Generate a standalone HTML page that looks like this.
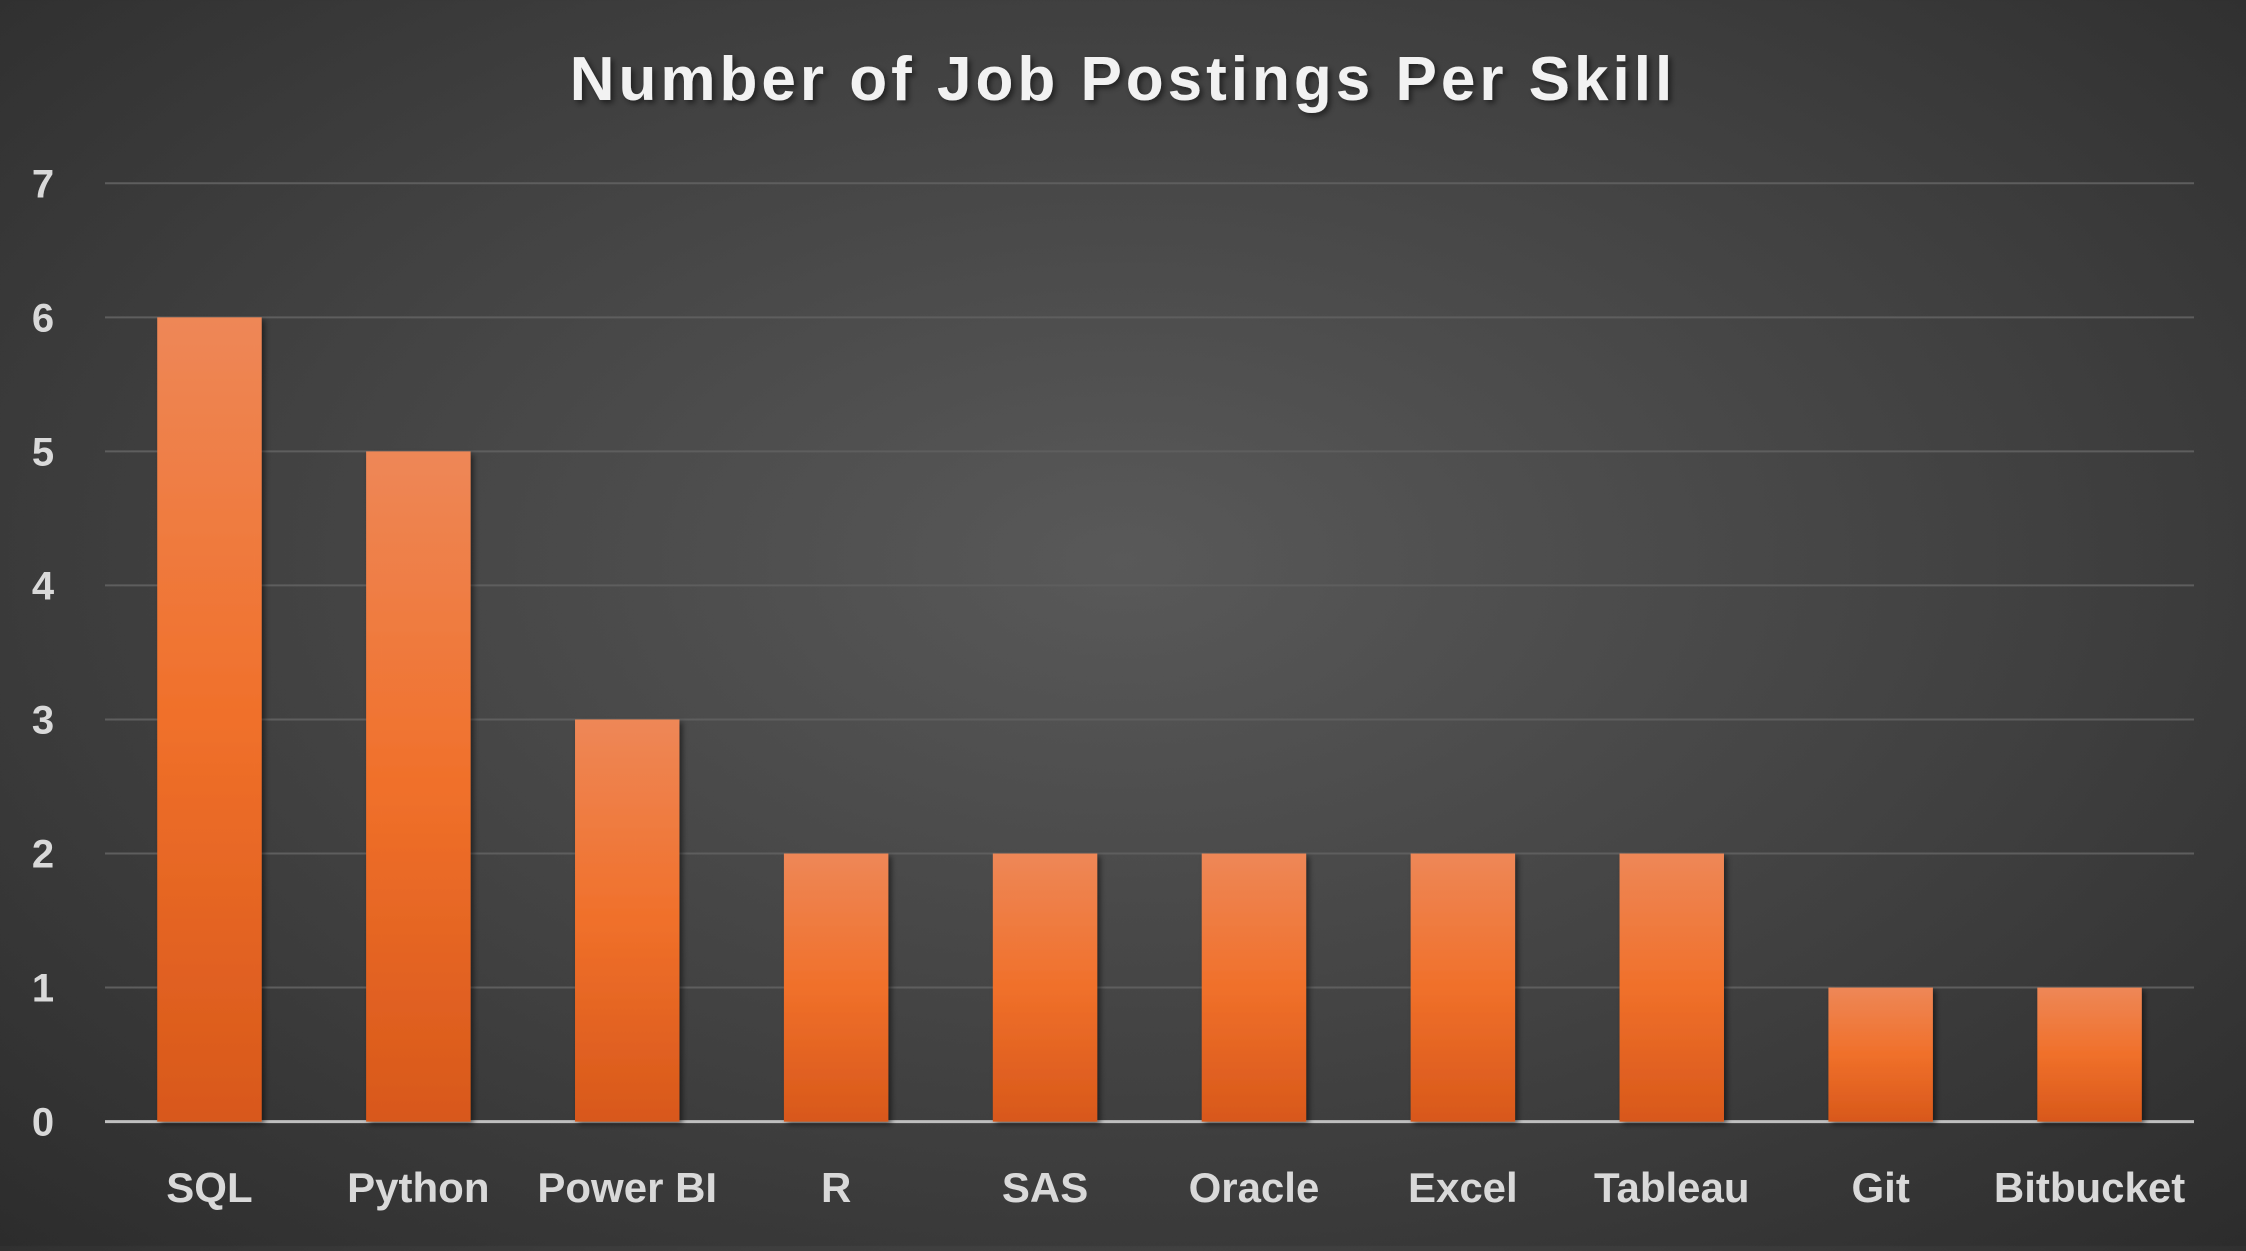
<!DOCTYPE html>
<html><head><meta charset="utf-8"><style>
html,body{margin:0;padding:0;}
body{width:2246px;height:1246px;overflow:hidden;background:radial-gradient(ellipse 75% 80% at 50% 45%,#595959 0%,#404040 55%,#2a2a2a 100%);font-family:"Liberation Sans",sans-serif;}
</style></head><body>
<svg id="chart" width="2246" height="1246" xmlns="http://www.w3.org/2000/svg">
<defs>
<linearGradient id="bg" x1="0" y1="0" x2="0" y2="1">
<stop offset="0" stop-color="#ee8757"/><stop offset="0.5" stop-color="#f0702a"/><stop offset="1" stop-color="#d8581b"/>
</linearGradient>
<filter id="sh" x="-20%" y="-20%" width="140%" height="140%"><feDropShadow dx="3" dy="3" stdDeviation="3" flood-color="#000" flood-opacity="0.5"/></filter>
</defs>
<text x="1123" y="100" text-anchor="middle" fill="#f2f2f2" font-size="62" font-weight="bold" letter-spacing="4" filter="url(#sh)">Number of Job Postings Per Skill</text>
<g id="grid"></g><g id="bars"></g><g id="labels"></g>
</svg>
<script>
const categories=["SQL","Python","Power BI","R","SAS","Oracle","Excel","Tableau","Git","Bitbucket"];
const values=[6,5,3,2,2,2,2,2,1,1];
const ticks=[0,1,2,3,4,5,6,7];
const L=105,R=2194,Y0=1121.6,Y7=183.3,maxV=7;
const NS="http://www.w3.org/2000/svg";
const svg=document.getElementById('chart');
function y(v){return Y0-(Y0-Y7)*v/maxV;}
function xc(i){const w=(R-L)/categories.length;return L+w*(i+0.5);}
function mk(t,a,p){const e=document.createElementNS(NS,t);for(const k in a)e.setAttribute(k,a[k]);p.appendChild(e);return e;}
const g=document.getElementById('grid'),b=document.getElementById('bars'),lb=document.getElementById('labels');
ticks.forEach(t=>{
 const ln=mk('line',{x1:L,x2:R,y1:y(t),y2:y(t),stroke:t===0?'#bfbfbf':'#5e5e5e','stroke-width':t===0?3:2},g);
 
 
 const tx=mk('text',{x:43,y:y(t)+14,'text-anchor':'middle',fill:'#d9d9d9','font-size':40,'font-weight':'bold'},lb);
 tx.textContent=t;
 
 
});
const bw=(R-L)/categories.length*0.5;
categories.forEach((c,i)=>{
 const r=mk('rect',{x:xc(i)-bw/2,y:y(values[i]),width:bw,height:Y0-y(values[i]),fill:'url(#bg)',filter:'url(#sh)'},b);
 
 
 const tx=mk('text',{x:xc(i),y:1202,'text-anchor':'middle',fill:'#d9d9d9','font-size':42,'font-weight':'bold'},lb);
 tx.textContent=c;
 
 
});
</script>
</body></html>
